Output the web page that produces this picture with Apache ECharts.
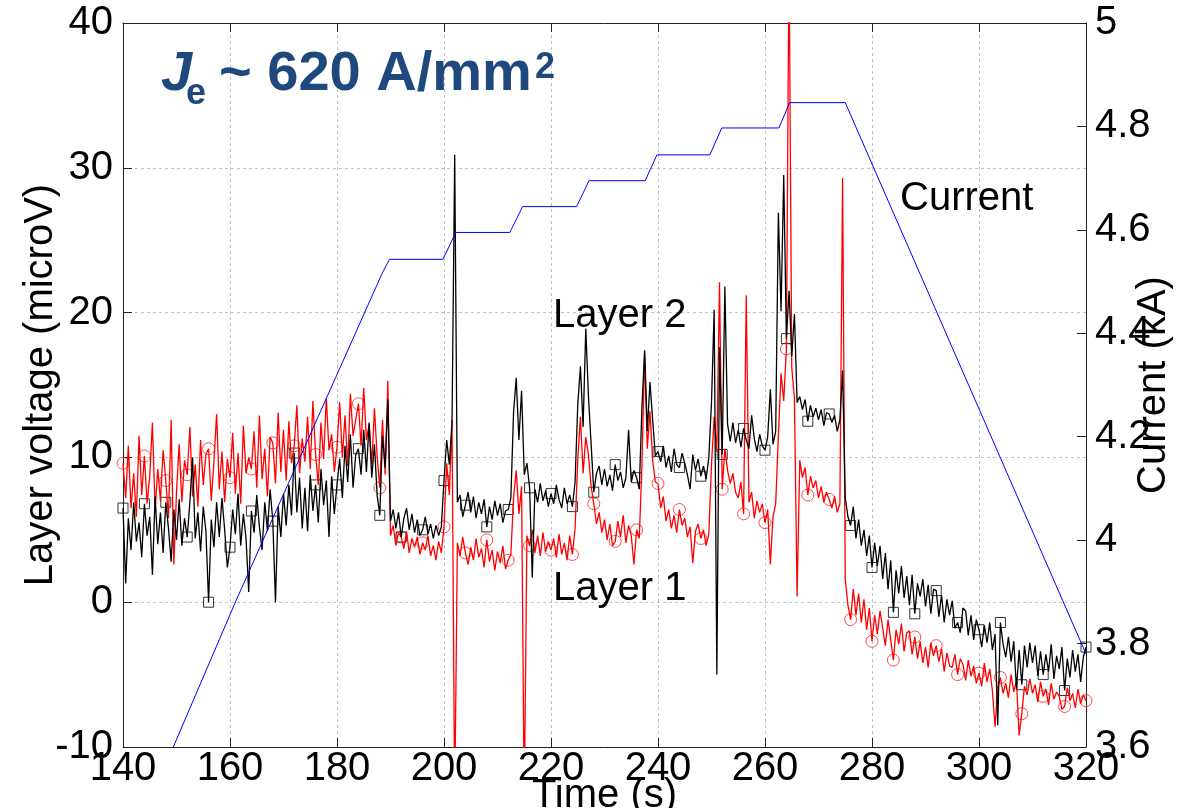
<!DOCTYPE html>
<html>
<head>
<meta charset="utf-8">
<script src="https://cdn.jsdelivr.net/npm/echarts@6/dist/echarts.min.js"></script>
<style>
  html, body { margin: 0; background: #fff; }
  #chart { width: 1184px; height: 808px; }
</style>
</head>
<body>
<div id="chart"></div>
<script>
// sampling of the two layer voltage traces: one value every 0.5 s from 140 s
var t0 = 140, dt = 0.5;

// Layer 2 (black), microV
var layer2 = [
  6.5, 1.3, 5.8, 3.6, 6.9, 4.2, 5.5, 3.1, 6.8, 4.6,        // 140
  5.9, 1.9, 7.3, 4.0, 6.2, 3.4, 6.9, 5.1, 2.8, 6.4,        // 145
  4.3, 7.1, 3.9, 5.8, 4.5, 6.9, 10.0, 4.4, 6.2, 3.5,       // 150
  6.6, 4.9, 0.0, 5.7, 3.8, 6.9, 4.5, 7.2, 5.0, 2.4,        // 155
  3.8, 6.4, 4.7, 7.5, 3.9, 6.1, 4.4, 0.7, 6.3, 4.8,        // 160
  7.4, 5.2, 3.6, 6.9, 4.9, 7.8, 5.6, 0.0, 6.6, 4.5,        // 165
  7.5, 5.3, 8.1, 6.0, 10.3, 6.2, 8.6, 5.1, 7.9, 4.9,       // 170
  8.8, 6.3, 8.1, 5.5, 9.2, 6.7, 8.4, 4.5, 8.7, 6.1,        // 175
  8.1, 9.9, 7.2, 10.8, 8.3, 11.6, 7.9, 10.2, 10.6, 8.8,    // 180
  11.9, 9.0, 12.4, 8.6, 10.9, 7.4, 6.0, 11.5, 9.3, 14.0,   // 185
  5.6, 6.4, 5.1, 6.2, 4.5, 5.8, 6.5, 5.0, 6.1, 4.8,        // 190
  5.7, 4.6, 5.0, 5.9, 4.7, 5.4, 4.4, 5.3, 4.6, 5.2,        // 195
  8.4, 11.2, 9.5, 12.4, 30.9, 6.9, 7.4, 5.9, 6.7, 7.6,     // 200
  6.2, 7.3, 5.8, 6.9, 6.1, 7.1, 5.2, 6.6, 5.7, 7.0,        // 205
  6.0, 6.8, 5.5, 6.3, 6.4, 7.2, 13.1, 15.5, 11.2, 14.6,    // 210
  8.8, 9.6, 7.9, 1.7, 7.8, 6.9, 8.2, 7.0, 7.7, 6.6,        // 215
  7.5, 6.8, 8.1, 7.1, 6.5, 7.9, 6.8, 7.4, 6.6, 8.3,        // 220
  13.6, 16.3, 12.1, 18.9, 14.2, 10.9, 7.6, 8.9, 9.4, 8.1,  // 225
  9.2, 8.0, 8.8, 7.7, 9.5, 8.4, 9.0, 7.9, 8.6, 11.9,       // 230
  8.3, 9.1, 8.6, 7.8, 13.5, 17.4, 11.8, 15.2, 12.6, 10.1,  // 235
  10.4, 9.7, 10.8, 9.3, 10.1, 9.0, 10.6, 9.5, 9.3, 10.3,   // 240
  9.6, 8.8, 7.8, 10.2, 9.1, 9.9, 8.7, 9.4, 8.5, 10.0,      // 245
  13.8, 20.2, -5.0, 17.6, 10.2, 21.8, 12.3, 11.1, 12.4, 11.0, // 250
  11.9, 10.7, 12.0, 11.2, 10.6, 12.9, 11.3, 10.4, 11.6, 10.8, // 255
  10.5, 11.4, 14.7, 10.9, 11.8, 26.9, 20.1, 29.5, 18.2, 21.5, // 260
  17.0, 19.9, 13.8, 14.2, 13.3, 14.0, 12.5, 13.6, 12.8, 13.4, // 265
  12.6, 13.3, 12.2, 13.1, 13.0, 12.4, 12.9, 11.8, 12.6, 16.0, // 270
  7.2, 5.9, 5.3, 6.6, 4.4, 5.7, 3.9, 5.0, 3.2, 4.6,        // 275
  2.4, 4.1, 2.5, 3.9, 1.6, 3.4, 0.9, 2.9, -0.7, 2.2,       // 280
  0.6, 2.5, 0.3, 1.8, -0.2, 1.9, -0.8, 1.3, 0.4, 1.6,      // 285
  -0.3, 1.2, -0.8, 0.9, 0.8, -1.0, 0.5, -1.4, 0.2, -0.9,   // 290
  0.1, -1.8, -1.4, -2.1, -0.4, -0.6, -2.3, -0.9, -2.6, -1.2, // 295
  -1.9, -3.1, -1.6, -2.8, -1.4, -3.3, -2.2, -8.5, -1.4, -2.9, // 300
  -3.8, -2.4, -4.1, -2.7, -6.0, -3.3, -5.7, -3.0, -4.5, -2.8, // 305
  -4.2, -3.0, -5.1, -3.4, -5.0, -3.6, -4.8, -2.9, -5.3, -3.7, // 310
  -4.6, -3.1, -6.1, -3.9, -5.2, -3.3, -4.8, -3.6, -5.5, -3.8, // 315
  -3.1                                                       // 320
];

// Layer 1 (red), microV
var layer1 = [
  9.6, 7.2, 10.8, 6.5, 8.9, 5.9, 11.5, 7.4, 10.1, 6.8,      // 140
  8.7, 12.4, 6.3, 9.2, 7.0, 10.5, 8.4, 5.8, 12.6, 2.6,      // 145
  7.6, 10.9, 6.9, 9.8, 8.8, 12.1, 7.3, 9.5, 6.6, 11.2,      // 150
  8.1, 10.2, 10.6, 7.0, 9.7, 13.0, 7.8, 10.4, 6.9, 9.9,     // 155
  8.6, 11.7, 7.5, 10.3, 6.8, 12.2, 8.9, 10.0, 9.2, 11.8,    // 160
  7.9, 12.9, 8.5, 10.6, 7.3, 11.4, 11.0, 8.2, 13.1, 9.0,    // 165
  11.9, 8.4, 12.5, 9.6, 10.8, 13.6, 8.9, 11.3, 9.7, 12.8,   // 170
  9.2, 13.9, 10.2, 8.1, 12.4, 9.9, 14.1, 10.5, 11.6, 9.0,   // 175
  10.7, 13.8, 10.0, 12.9, 9.4, 14.4, 11.5, 12.6, 13.7, 10.8, // 180
  14.8, 11.2, 12.3, 9.5, 13.4, 10.1, 7.9, 12.6, 8.8, 15.3,  // 185
  4.6, 5.3, 3.9, 4.8, 4.5, 3.7, 4.9, 3.4, 4.4, 3.8,         // 190
  4.5, 3.3, 4.1, 3.6, 4.6, 3.2, 3.9, 2.9, 4.2, 3.4,         // 195
  5.2, 9.6, 7.4, 12.6, -14, 4.1, 3.2, 4.5, 3.4, 2.6,        // 200
  3.8, 2.9, 4.4, 3.1, 3.7, 2.4, 4.3, 2.8, 3.6, 2.2,         // 205
  3.5, 2.7, 3.9, 2.3, 2.9, 3.3, 7.2, 9.1, 6.1, 8.0,         // 210
  -14, 4.6, 3.9, 5.0, 3.4, 4.6, 3.2, 4.8, 3.5, 4.2,         // 215
  3.6, 4.4, 3.1, 4.7, 3.3, 4.1, 2.9, 4.6, 3.3, 5.1,         // 220
  9.8, 12.8, 8.9, 11.4, 10.2, 8.0, 6.8, 5.4, 6.2, 4.8,      // 225
  5.7, 4.3, 5.4, 3.9, 4.2, 5.6, 4.5, 6.0, 4.1, 5.3,         // 230
  4.6, 2.6, 5.0, 4.4, 9.5, 17.2, 10.6, 13.2, 9.8, 8.3,      // 235
  8.2, 6.5, 7.3, 5.6, 6.4, 5.1, 6.0, 4.8, 6.4, 5.3,         // 240
  5.8, 4.5, 5.2, 2.7, 4.9, 5.4, 4.4, 5.0, 3.9, 4.7,         // 245
  9.5, 12.8, 10.4, 22.1, 7.8, 10.6, 9.1, 8.2, 8.9, 7.6,     // 250
  7.2, 8.3, 6.1, 21.2, 6.9, 7.6, 5.8, 7.0, 6.2, 6.8,        // 255
  5.5, 6.4, 2.6, 5.9, 6.8, 11.5, 15.8, 13.9, 17.5, 45,      // 260
  16.2, 14.1, 0.4, 9.8, 8.6, 9.3, 7.4, 8.7, 7.9, 8.4,       // 265
  7.2, 8.0, 6.9, 7.6, 7.1, 6.5, 7.3, 6.2, 6.8, 29.3,        // 270
  1.6, -0.2, -1.2, 0.9, -0.9, 0.6, -1.4, 0.2, -1.9, -0.4,   // 275
  -2.7, -0.9, -2.2, -0.6, -1.8, -3.0, -1.2, -2.6, -4.0, -1.9, // 280
  -2.9, -1.5, -3.4, -2.1, -2.0, -3.6, -2.4, -3.9, -2.7, -4.2, // 285
  -3.1, -4.5, -2.8, -3.7, -3.0, -4.1, -3.2, -4.8, -3.5, -4.4, // 290
  -4.5, -3.6, -5.0, -3.9, -4.3, -5.4, -4.0, -5.1, -4.4, -5.6, // 295
  -4.9, -5.8, -4.2, -5.5, -4.6, -6.1, -8.6, -5.9, -5.2, -6.3, // 300
  -5.6, -6.6, -5.0, -6.2, -5.4, -9.2, -7.7, -5.8, -6.4, -5.3, // 305
  -6.3, -5.7, -6.9, -5.5, -6.5, -6.0, -7.1, -5.6, -6.7, -6.2, // 310
  -6.5, -7.4, -7.2, -5.9, -6.8, -6.3, -7.3, -6.0, -7.0, -6.4, // 315
  -6.8                                                        // 320
];

// magnet current (blue), kA, break points of the ramp/plateau profile
var currentTime = [149.4, 161.0, 188.4, 189.8, 199.8, 202.2, 212.3, 214.7, 224.8, 227.1,
                   237.6, 239.8, 249.7, 251.9, 262.6, 264.6, 275.0, 320.0];
var currentKA   = [3.600, 3.880, 4.515, 4.543, 4.543, 4.595, 4.595, 4.645, 4.645, 4.695,
                   4.695, 4.745, 4.745, 4.797, 4.797, 4.846, 4.846, 3.780];

var xTicks = { min: 140, max: 320, step: 20 };
var voltTicks = { min: -10, max: 40, step: 10 };
var ampTicks = { min: 3.6, max: 5, step: 0.2 };
var markerEvery = 8; // one marker every 4 s

var font = "'Liberation Sans', Arial, sans-serif";

function pairs(arr) {
    return arr.map(function (v, i) { return [t0 + i * dt, v]; });
}
function markers(arr) {
    return pairs(arr).filter(function (p, i) { return i % markerEvery === 0; });
}

var chart = echarts.init(document.getElementById('chart'), null, { renderer: 'canvas' });

var frame = { show: true, onZero: false, lineStyle: { color: '#222', width: 1 } };
var tick = { show: true, inside: true, length: 9, lineStyle: { color: '#222', width: 1 } };
var dashed = { show: true, lineStyle: { color: '#c2c2c2', width: 1, type: [3, 3] } };
var label = { color: '#000', fontSize: 40, fontFamily: font };
var nameStyle = { color: '#000', fontSize: 40, fontFamily: font };

function txt(x, y, text, size, extra) {
    var style = {
        text: text, fontSize: size, fontFamily: font, fill: '#000',
        align: 'left', verticalAlign: 'middle', textAlign: 'left', textVerticalAlign: 'middle'
    };
    for (var k in extra) style[k] = extra[k];
    return { type: 'text', x: x, y: y, silent: true, z: 100, style: style };
}
var titleColor = '#1f497d';

var option = {
    animation: false,
    backgroundColor: '#fff',
    grid: { left: 123, right: 98, top: 23, bottom: 61, containLabel: false, outerBoundsMode: 'none' },
    xAxis: [{
        type: 'value', position: 'bottom',
        min: xTicks.min, max: xTicks.max, interval: xTicks.step,
        axisLine: frame, axisTick: tick,
        axisLabel: Object.assign({ margin: 2 }, label),
        splitLine: dashed,
        name: 'Time (s)', nameLocation: 'middle', nameGap: 29, nameMoveOverlap: false,
        nameTextStyle: nameStyle
    }, {
        type: 'value', position: 'top',
        min: xTicks.min, max: xTicks.max, interval: xTicks.step,
        axisLine: frame, axisTick: tick,
        axisLabel: { show: false }, splitLine: { show: false }
    }],
    yAxis: [{
        type: 'value', position: 'left',
        min: voltTicks.min, max: voltTicks.max, interval: voltTicks.step,
        axisLine: frame, axisTick: tick,
        axisLabel: Object.assign({ margin: 10 }, label),
        splitLine: dashed,
        name: 'Layer voltage (microV)', nameLocation: 'middle', nameRotate: 90, nameGap: 62,
        nameMoveOverlap: false, nameTextStyle: nameStyle
    }, {
        type: 'value', position: 'right',
        min: ampTicks.min, max: ampTicks.max, interval: ampTicks.step,
        axisLine: frame, axisTick: tick,
        axisLabel: Object.assign({ margin: 9 }, label),
        splitLine: { show: false },
        name: 'Current (kA)', nameLocation: 'middle', nameRotate: 90, nameGap: 48,
        nameMoveOverlap: false, nameTextStyle: nameStyle
    }],
    series: [{
        name: 'Layer 1', type: 'line', data: pairs(layer1),
        symbol: 'none', silent: true,
        lineStyle: { color: '#ff0000', width: 1.3 }
    }, {
        name: 'Layer 1 markers', type: 'scatter', data: markers(layer1),
        symbol: 'circle', symbolSize: 12, silent: true,
        itemStyle: { color: 'rgba(0,0,0,0)', borderColor: '#ff2020', borderWidth: 1 }
    }, {
        name: 'Layer 2', type: 'line', data: pairs(layer2),
        symbol: 'none', silent: true,
        lineStyle: { color: '#000000', width: 1.3 }
    }, {
        name: 'Layer 2 markers', type: 'scatter', data: markers(layer2),
        symbol: 'rect', symbolSize: 10, silent: true,
        itemStyle: { color: 'rgba(0,0,0,0)', borderColor: '#000', borderWidth: 1 }
    }, {
        name: 'Current', type: 'line', yAxisIndex: 1,
        data: currentTime.map(function (t, i) { return [t, currentKA[i]]; }),
        symbol: 'none', silent: true,
        lineStyle: { color: '#0000ff', width: 1 }
    }],
    graphic: [
        txt(161, 75, 'J', 56, { fontWeight: 'bold', fontStyle: 'italic', fill: titleColor }),
        txt(186, 94, 'e', 36, { fontWeight: 'bold', fill: titleColor }),
        txt(219, 75, '~ 620 A/mm', 56, { fontWeight: 'bold', fill: titleColor }),
        txt(535, 68, '2', 36, { fontWeight: 'bold', fill: titleColor }),
        txt(900, 199, 'Current', 40),
        txt(553, 316, 'Layer 2', 40),
        txt(553, 589, 'Layer 1', 40)
    ]
};

chart.setOption(option);
</script>
</body>
</html>
